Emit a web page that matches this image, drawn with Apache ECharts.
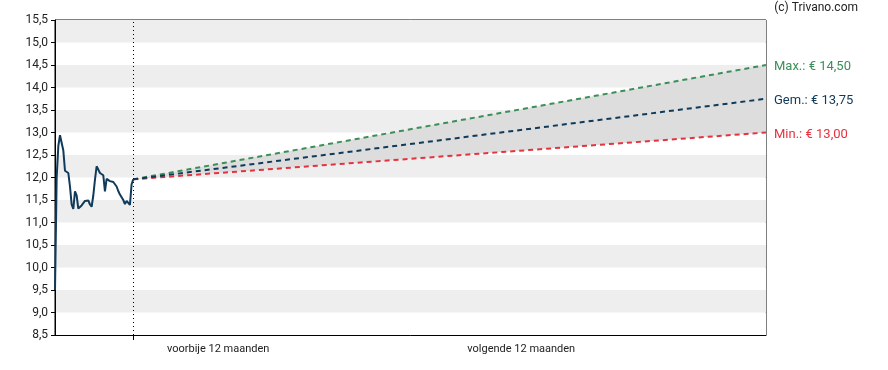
<!DOCTYPE html>
<html>
<head>
<meta charset="utf-8">
<script src="https://cdn.jsdelivr.net/npm/echarts@6/dist/echarts.min.js"></script>
<style>html,body{margin:0;padding:0;background:#fff}#c{width:888px;height:370px}</style>
</head>
<body>
<div id="c"></div>
<script>
// Past 12 months closing prices (evenly spaced samples)
const pastPrices = [9.5, 12.0, 12.7, 12.94, 12.9, 12.6, 12.15, 12.18, 12.1, 11.8, 11.4, 11.3, 11.69, 11.6, 11.31, 11.33, 11.38, 11.43, 11.48, 11.5, 11.49, 11.4, 11.35, 11.6, 11.95, 12.25, 12.28, 12.1, 12.08, 12.05, 11.69, 11.97, 11.98, 11.92, 11.88, 11.9, 11.85, 11.8, 11.7, 11.62, 11.58, 11.5, 11.41, 11.48, 11.48, 11.39, 11.85, 11.96];
// Forecast for next 12 months: [start, end]
const forecastMax = [11.96, 14.5];
const forecastAvg = [11.96, 13.75];
const forecastMin = [11.96, 13.0];
const forecastNames = ['Max.', 'Gem.', 'Min.'];
const periodLabels = ['voorbije 12 maanden', 'volgende 12 maanden'];
const yTicks = {min: 8.5, max: 15.5, step: 0.5};
const copyright = '(c) Trivano.com';

// layout of the horizontal scale (in sample units)
const divider = pastPrices.length - 1;
const futureSpan = 380;
const xEnd = divider + futureSpan;
const labelPos = [98, 280];

const fmt = v => v.toFixed(2).replace('.', ',');
const pastData = pastPrices.map((v, i) => [i, v]);
const fc = arr => [[divider, arr[0]], [xEnd, arr[1]]];

const C_NAVY = '#0f3a5a', C_GREEN = '#3b8f57', C_RED = '#e5323f';
const endLbl = (color, name) => ({show: true, distance: 8, offset: [0, 2], fontFamily: 'Roboto', fontSize: 13, color: color,
  formatter: p => name + ': € ' + fmt(p.value[1])});

const chart = echarts.init(document.getElementById('c'), null, {renderer: 'canvas'});
chart.setOption({
  animation: false,
  title: {text: copyright, right: 25, top: -3, textStyle: {fontFamily: 'Roboto', fontSize: 12, fontWeight: 'normal', color: '#222'}},
  grid: {left: 55, right: 122, top: 20, bottom: 35, show: true, borderColor: '#000', borderWidth: 1, backgroundColor: 'transparent'},
  xAxis: {
    type: 'value', min: 0, max: xEnd,
    axisLine: {show: true, onZero: false, lineStyle: {color: '#000', width: 1}},
    axisTick: {show: true, customValues: [divider], length: 5, lineStyle: {color: '#000'}},
    axisLabel: {show: true, customValues: labelPos, margin: 9, fontFamily: 'Roboto', fontSize: 11, color: '#222',
      formatter: v => v === labelPos[0] ? periodLabels[0] : periodLabels[1]},
    splitLine: {show: false}
  },
  yAxis: {
    type: 'value', min: yTicks.min, max: yTicks.max, interval: yTicks.step,
    axisLine: {show: true, lineStyle: {color: '#000', width: 1}},
    axisTick: {show: true, length: 4, lineStyle: {color: '#000'}},
    axisLabel: {margin: 7, fontFamily: 'Roboto', fontSize: 12, color: '#222', formatter: v => v.toFixed(1).replace('.', ',')},
    splitLine: {show: false},
    splitArea: {show: true, areaStyle: {color: ['#ffffff', '#eeeeee']}}
  },
  series: [
    {
      type: 'custom', silent: true, z: 1,
      data: [0],
      renderItem: (params, api) => {
        const pts = [
          api.coord([divider, forecastMin[0]]), api.coord([xEnd, forecastMin[1]]),
          api.coord([xEnd, forecastMax[1]]), api.coord([divider, forecastMax[0]])
        ];
        return {type: 'polygon', shape: {points: pts}, style: {fill: '#dddddd'}};
      }
    },
    {
      type: 'line', data: fc(forecastMax), symbol: 'none', z: 3,
      lineStyle: {color: C_GREEN, width: 2, type: [5, 4]},
      endLabel: endLbl(C_GREEN, forecastNames[0])
    },
    {
      type: 'line', data: fc(forecastMin), symbol: 'none', z: 3,
      lineStyle: {color: C_RED, width: 2, type: [5, 4]},
      endLabel: endLbl(C_RED, forecastNames[2])
    },
    {
      type: 'line', data: fc(forecastAvg), symbol: 'none', z: 4,
      lineStyle: {color: C_NAVY, width: 2, type: [5, 4]},
      endLabel: endLbl(C_NAVY, forecastNames[1])
    },
    {
      type: 'line', data: pastData, symbol: 'none', z: 5,
      lineStyle: {color: C_NAVY, width: 2},
      markLine: {
        silent: true, symbol: 'none', label: {show: false},
        lineStyle: {color: '#000', width: 1, type: [1, 3]},
        data: [{xAxis: divider}]
      }
    }
  ]
});
</script>
</body>
</html>
